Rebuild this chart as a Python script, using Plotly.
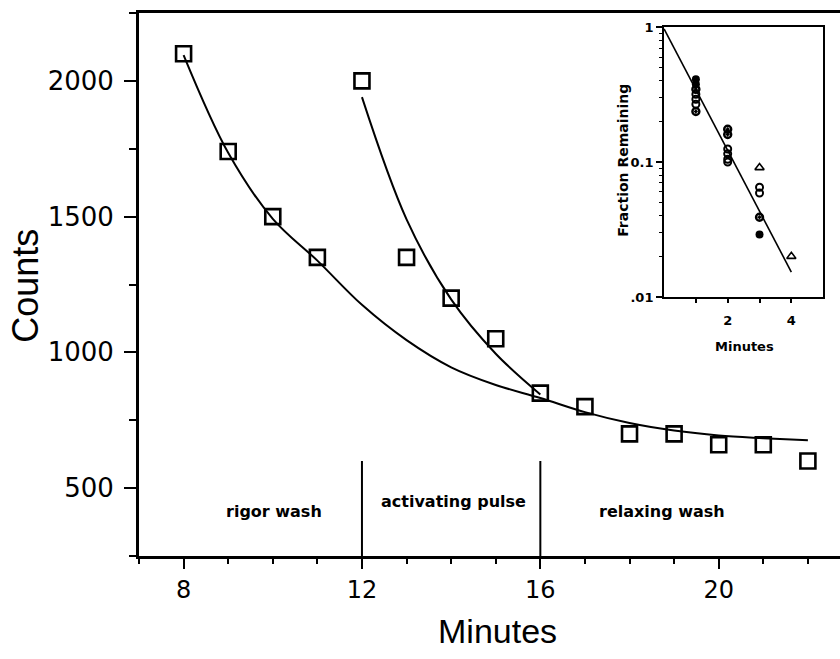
import plotly.graph_objects as go

# Main data (minutes vs counts)
minutes = [8, 9, 10, 11, 12, 13, 14, 15, 16, 17, 18, 19, 20, 21, 22]
counts = [2100, 1740, 1500, 1350, 2000, 1350, 1200, 1050, 850, 800, 700, 700, 660, 660, 600]

# Fitted curves
fit1_x = [8, 9, 10, 11, 12, 13, 14, 15, 16, 17, 18, 19, 20, 21, 22]
fit1_y = [2095, 1735, 1492, 1338, 1175, 1045, 945, 880, 832, 780, 740, 712, 694, 684, 676]
fit2_x = [12, 13, 14, 15, 16]
fit2_y = [1940, 1490, 1195, 995, 845]

# Phase boundaries and labels
phase_lines = [12, 16]
phase_line_top = 600
phase_labels = ["rigor wash", "activating pulse", "relaxing wash"]
phase_label_x = [10.03, 14.06, 18.73]
phase_label_y = [415, 452, 415]

# Inset data (fraction remaining vs minutes)
inset_filled_x = [1, 1, 3]
inset_filled_y = [0.41, 0.377, 0.029]
inset_half_x = [1, 1, 2, 2, 3]
inset_half_y = [0.346, 0.237, 0.175, 0.16, 0.039]
inset_open_x = [1, 1, 1, 2, 2, 2, 2, 3, 3]
inset_open_y = [0.318, 0.292, 0.268, 0.125, 0.115, 0.105, 0.10, 0.065, 0.059]
inset_tri_x = [3, 4]
inset_tri_y = [0.091, 0.02]
inset_fit_x = [0, 4]
inset_fit_y = [0.97, 0.0153]

inset_minor = [0.02, 0.03, 0.04, 0.05, 0.06, 0.07, 0.08, 0.09,
               0.2, 0.3, 0.4, 0.5, 0.6, 0.7, 0.8, 0.9]

fig = go.Figure()

fig.add_trace(go.Scatter(x=fit1_x, y=fit1_y, mode="lines", line=dict(color="black", width=2, shape="spline"),
                         showlegend=False, hoverinfo="skip"))
fig.add_trace(go.Scatter(x=fit2_x, y=fit2_y, mode="lines", line=dict(color="black", width=2, shape="spline"),
                         showlegend=False, hoverinfo="skip"))
fig.add_trace(go.Scatter(x=minutes, y=counts, mode="markers",
                         marker=dict(symbol="square-open", size=15, color="black", line=dict(width=2.6)),
                         showlegend=False))

# Inset traces
fig.add_trace(go.Scatter(x=inset_fit_x, y=inset_fit_y, mode="lines", xaxis="x2", yaxis="y2",
                         line=dict(color="black", width=1.6), showlegend=False))
fig.add_trace(go.Scatter(x=inset_open_x, y=inset_open_y, mode="markers", xaxis="x2", yaxis="y2",
                         marker=dict(symbol="circle-open", size=7, color="black", line=dict(width=2)),
                         showlegend=False))
fig.add_trace(go.Scatter(x=inset_half_x, y=inset_half_y, mode="markers", xaxis="x2", yaxis="y2",
                         marker=dict(symbol="circle-open-dot", size=7, color="black", line=dict(width=2.4)),
                         showlegend=False))
fig.add_trace(go.Scatter(x=inset_filled_x, y=inset_filled_y, mode="markers", xaxis="x2", yaxis="y2",
                         marker=dict(symbol="circle", size=8, color="black"),
                         showlegend=False))
fig.add_trace(go.Scatter(x=inset_tri_x, y=inset_tri_y, mode="markers", xaxis="x2", yaxis="y2",
                         marker=dict(symbol="triangle-up-open", size=8, color="black", line=dict(width=1.6)),
                         showlegend=False))

for xv in phase_lines:
    fig.add_shape(type="line", xref="x", yref="y", x0=xv, x1=xv, y0=250, y1=phase_line_top,
                  line=dict(color="black", width=2))

for t, xv, yv in zip(phase_labels, phase_label_x, phase_label_y):
    fig.add_annotation(x=xv, y=yv, xref="x", yref="y", text=t, showarrow=False,
                       xanchor="center", yanchor="middle",
                       font=dict(family="DejaVu Sans", size=16, color="black", weight="bold"))

# Axis titles as annotations
fig.add_annotation(x=0.511, y=-0.138, xref="paper", yref="paper", text="Minutes", showarrow=False,
                   xanchor="center", yanchor="middle",
                   font=dict(family="Liberation Sans", size=34, color="black"))
fig.add_annotation(x=-0.163, y=0.497, xref="paper", yref="paper", text="Counts", showarrow=False, textangle=-90,
                   xanchor="center", yanchor="middle",
                   font=dict(family="Liberation Sans", size=36, color="black"))
fig.add_annotation(x=0.690, y=0.729, xref="paper", yref="paper", text="Fraction Remaining", showarrow=False,
                   textangle=-90, xanchor="center", yanchor="middle",
                   font=dict(family="DejaVu Sans", size=14, color="black", weight="bold"))
fig.add_annotation(x=0.864, y=0.385, xref="paper", yref="paper", text="Minutes", showarrow=False,
                   xanchor="center", yanchor="middle",
                   font=dict(family="DejaVu Sans", size=13, color="black", weight="bold"))

tickfont = dict(family="DejaVu Sans", size=26, color="black")
fig.update_layout(
    width=840, height=659,
    margin=dict(l=139, r=0, t=13, b=103),
    paper_bgcolor="white", plot_bgcolor="white",
    xaxis=dict(range=[7, 22.72], tickvals=[8, 12, 16, 20], ticks="outside", ticklen=10, tickwidth=2,
               tickcolor="black", showline=True, linecolor="black", linewidth=3, mirror=True,
               showgrid=False, zeroline=False, ticklabelstandoff=0,
               tickfont=dict(family="DejaVu Sans", size=24, color="black"),
               minor=dict(tickmode="linear", tick0=7, dtick=1, ticks="outside", ticklen=5, tickwidth=2,
                          tickcolor="black", showgrid=False)),
    yaxis=dict(range=[250, 2250], tick0=500, dtick=500, ticks="outside", ticklen=12, tickwidth=2,
               tickcolor="black", showline=True, linecolor="black", linewidth=3, mirror=False,
               showgrid=False, zeroline=False, tickfont=tickfont, ticklabelstandoff=5,
               minor=dict(tickmode="linear", tick0=250, dtick=250, ticks="outside", ticklen=7, tickwidth=2,
                          tickcolor="black", showgrid=False)),
    xaxis2=dict(domain=[0.749, 0.976], anchor="y2", range=[0, 5], tickvals=[1, 2, 3, 4],
                ticktext=["", "2", "", "4"], ticks="outside", ticklen=4, tickwidth=1.5, tickcolor="black",
                showline=True, linecolor="black", linewidth=2, mirror=True, showgrid=False, zeroline=False,
                ticklabelstandoff=6,
                tickfont=dict(family="DejaVu Sans", size=13, color="black", weight="bold")),
    yaxis2=dict(domain=[0.477, 0.974], anchor="x2", type="log", range=[-2, 0],
                tickvals=[0.01, 0.1, 1], ticktext=[".01", "0.1", "1"], ticks="outside", ticklen=6,
                tickwidth=1.5, tickcolor="black", showline=True, linecolor="black", linewidth=2, mirror=True,
                showgrid=False, zeroline=False,
                tickfont=dict(family="DejaVu Sans", size=13, color="black", weight="bold"),
                minor=dict(tickvals=inset_minor, ticks="outside", ticklen=3, tickwidth=1.2,
                           tickcolor="black", showgrid=False)),
)

fig.write_html("out.html")
